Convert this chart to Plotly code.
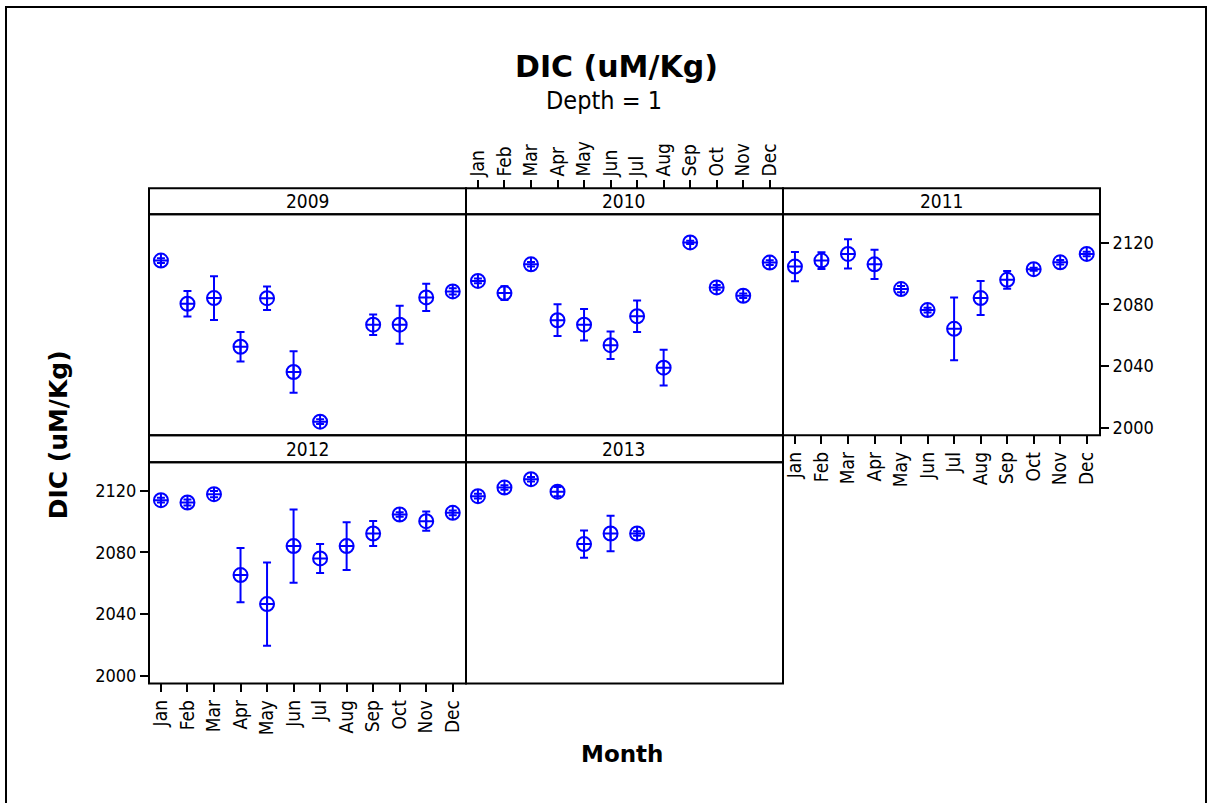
import plotly.graph_objects as go

# ---- data: monthly mean DIC (uM/Kg) at depth 1, with 95% CI half-widths ----
months = ["Jan", "Feb", "Mar", "Apr", "May", "Jun",
          "Jul", "Aug", "Sep", "Oct", "Nov", "Dec"]
years = ["2009", "2010", "2011", "2012", "2013"]

mean_2009 = [2108.4, 2080.4, 2084.1, 2052.5, 2084.0, 2036.1,
             2003.9, None, 2066.8, 2066.8, 2084.5, 2088.4]
ci_2009 = [1.5, 8.2, 14.2, 9.6, 7.6, 13.5, 1.5, None, 6.6, 12.3, 8.8, 2.0]

mean_2010 = [2095.2, 2087.3, 2106.0, 2069.7, 2066.8, 2053.5,
             2072.3, 2038.9, 2120.2, 2091.0, 2085.6, 2107.1]
ci_2010 = [1.5, 4.5, 1.5, 10.3, 10.2, 8.9, 10.2, 11.6, 1.0, 1.5, 1.5, 1.5]

mean_2011 = [2104.5, 2108.4, 2112.7, 2106.0, 2089.9, 2076.3,
             2064.1, 2084.1, 2095.9, 2102.8, 2107.3, 2112.7]
ci_2011 = [9.5, 5.4, 9.5, 9.5, 2.0, 1.5, 20.3, 11.0, 5.8, 1.0, 1.5, 1.5]

mean_2012 = [2113.9, 2112.4, 2117.8, 2065.3, 2046.5, 2084.1,
             2076.1, 2084.1, 2092.3, 2104.6, 2100.3, 2105.7]
ci_2012 = [1.5, 2.0, 2.0, 17.6, 27.0, 23.7, 9.4, 15.5, 8.1, 1.5, 6.2, 1.5]

mean_2013 = [2116.5, 2122.1, 2127.5, 2119.4, 2085.4, 2092.3,
             2092.3, None, None, None, None, None]
ci_2013 = [1.5, 1.5, 1.5, 3.0, 8.8, 11.5, 1.5, None, None, None, None, None]

y_ticks = [2000, 2040, 2080, 2120]

means = [mean_2009, mean_2010, mean_2011, mean_2012, mean_2013]
cis = [ci_2009, ci_2010, ci_2011, ci_2012, ci_2013]

# ---- page geometry (pixels) ----
W, H = 1207, 803
FONT = "DejaVu Sans"
TICK_FONT = "DejaVu Sans Condensed, DejaVu Sans"
BLUE = "#0000ff"


def fx(x):
    return x / W


def fy(y):
    return 1 - y / H


col_x = [(149, 466), (466, 783), (783, 1100)]
# (header top, plot top, plot bottom)
row_y = [(189, 215, 437), (437, 464, 686)]
panel_pos = [(0, 0), (0, 1), (0, 2), (1, 0), (1, 1)]

x_range = [-0.45, 11.5]
y_range = [1995, 2138.5]

fig = go.Figure()
layout = dict(
    width=W, height=H,
    margin=dict(l=0, r=0, t=0, b=0),
    paper_bgcolor="white", plot_bgcolor="white",
    showlegend=False,
    font=dict(family=FONT, color="black", size=14),
)

shapes = []
annotations = []

for i, (yr, m, c, (r, col)) in enumerate(zip(years, means, cis, panel_pos)):
    n = i + 1
    xs = [k for k, v in enumerate(m) if v is not None]
    ys = [m[k] for k in xs]
    es = [c[k] for k in xs]
    fig.add_trace(go.Scatter(
        x=xs, y=ys, mode="markers",
        xaxis=f"x{n}", yaxis=f"y{n}",
        marker=dict(symbol="circle-cross-open", size=14, color=BLUE,
                    line=dict(width=2, color=BLUE)),
        error_y=dict(type="data", array=es, symmetric=True,
                     color=BLUE, thickness=2, width=4),
        cliponaxis=False,
    ))

    x0, x1 = col_x[col]
    h0, p0, p1 = row_y[r]

    xa = dict(domain=[fx(x0), fx(x1)], range=x_range, anchor=f"y{n}",
              tickmode="array", tickvals=list(range(12)), ticktext=months,
              tickangle=-90, showgrid=False, zeroline=False, showline=False,
              ticks="", showticklabels=False,
              tickfont=dict(family=TICK_FONT, size=19, color="black"))
    ya = dict(domain=[fy(p1), fy(p0)], range=y_range, anchor=f"x{n}",
              tickmode="array", tickvals=y_ticks,
              showgrid=False, zeroline=False, showline=False,
              ticks="", showticklabels=False,
              tickfont=dict(family=TICK_FONT, size=18, color="black"))

    tick_style = dict(ticks="outside", ticklen=8, tickwidth=2,
                      tickcolor="black", showticklabels=True)
    if yr == "2010":
        xa.update(tick_style)
        xa.update(side="top", anchor="free", position=fy(h0))
    if yr in ("2011", "2012"):
        xa.update(tick_style)
        xa.update(side="bottom")
    if yr == "2011":
        ya.update(tick_style)
        ya.update(side="right")
    if yr == "2012":
        ya.update(tick_style)
        ya.update(side="left")

    layout[f"xaxis{n}"] = xa
    layout[f"yaxis{n}"] = ya

    # panel frame and strip header
    for (ya0, ya1) in [(h0, p0), (p0, p1)]:
        shapes.append(dict(type="rect", xref="paper", yref="paper",
                           x0=fx(x0), x1=fx(x1), y0=fy(ya1), y1=fy(ya0),
                           line=dict(color="black", width=2),
                           fillcolor="rgba(0,0,0,0)", layer="above"))
    annotations.append(dict(text=yr, xref="paper", yref="paper",
                            x=fx((x0 + x1) / 2), y=fy((h0 + p0) / 2),
                            xanchor="center", yanchor="middle", showarrow=False,
                            font=dict(family=TICK_FONT, size=19, color="black")))

# outer frame of the graph window
shapes.append(dict(type="path", xref="paper", yref="paper",
                   path=f"M {fx(6)} {fy(812)} L {fx(6)} {fy(7)} "
                        f"L {fx(1206)} {fy(7)} L {fx(1206)} {fy(812)}",
                   line=dict(color="black", width=2)))

# titles
annotations += [
    dict(text="<b>DIC (uM/Kg)</b>", xref="paper", yref="paper",
         x=fx(616), y=fy(67), xanchor="center", yanchor="middle",
         showarrow=False, font=dict(family=FONT, size=30, color="black")),
    dict(text="Depth = 1", xref="paper", yref="paper",
         x=fx(604), y=fy(101), xanchor="center", yanchor="middle",
         showarrow=False, font=dict(family=TICK_FONT, size=25, color="black")),
    dict(text="<b>DIC (uM/Kg)</b>", xref="paper", yref="paper",
         x=fx(58), y=fy(437), xanchor="center", yanchor="middle",
         textangle=-90, showarrow=False,
         font=dict(family=FONT, size=25, color="black")),
    dict(text="<b>Month</b>", xref="paper", yref="paper",
         x=fx(622), y=fy(757), xanchor="center", yanchor="middle",
         showarrow=False, font=dict(family=FONT, size=23, color="black")),
]

layout["shapes"] = shapes
layout["annotations"] = annotations
fig.update_layout(**layout)

fig.write_html("out.html")
